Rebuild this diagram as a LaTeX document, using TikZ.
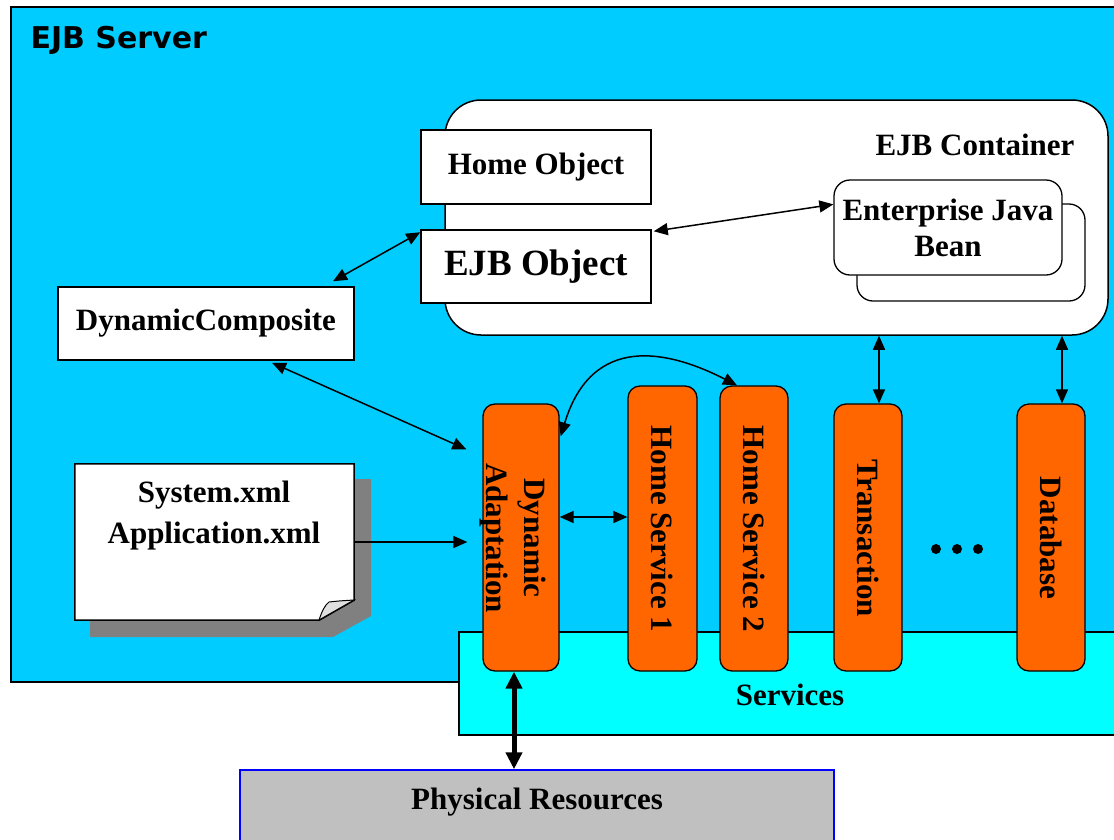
\documentclass[tikz,border=0pt]{standalone}
\usepackage{fontspec}
\setmainfont{Liberation Serif}
\newfontfamily\comicfont{DejaVu Sans}
\usetikzlibrary{arrows.meta,calc}
\definecolor{srv}{HTML}{00CCFF}
\definecolor{svc}{HTML}{00FFFF}
\definecolor{org}{HTML}{FF6600}
\definecolor{phys}{HTML}{C0C0C0}
\definecolor{shd}{HTML}{808080}
\definecolor{foldc}{HTML}{E0E0E0}
\begin{document}
\begin{tikzpicture}[x=1pt,y=-1pt,
  txt/.style={font=\fontsize{31}{36}\selectfont\bfseries},
  sq/.style={draw, line width=1.5pt, fill=white, inner sep=0pt, txt},
  orbox/.style={draw, line width=1.3pt, fill=org, rounded corners=12pt, inner sep=0pt},
  vtext/.style={rotate=-90, txt, align=center},
  dbl/.style={{Triangle[length=14pt,width=12pt]}-{Triangle[length=14pt,width=12pt]}, line width=1.5pt},
  sgl/.style={-{Triangle[length=14pt,width=12pt]}, line width=1.5pt},
  fat/.style={{Triangle[length=17pt,width=16pt]}-{Triangle[length=17pt,width=16pt]}, line width=5pt}]
\useasboundingbox (0,0) rectangle (1114,839);
\clip (0,0) rectangle (1114,839);
% EJB server
\node[draw, line width=1.5pt, fill=srv, inner sep=0pt, minimum width=1114pt, minimum height=675pt] (server) at (568,344.5) {};
\node[anchor=base west, font=\comicfont\bfseries\fontsize{30}{32}\selectfont] (servertitle) at (27,48) {EJB Server};
% services band
\node[draw, line width=1.5pt, fill=svc, inner sep=0pt, minimum width=666pt, minimum height=103pt] (services) at (792,683.5) {};
\node[txt] (svctext) at (790,695) {Services};
% container
\node[draw, line width=1.5pt, fill=white, rounded corners=36pt, inner sep=0pt, minimum width=663pt, minimum height=235pt] (container) at (776.5,217.5) {};
\node[txt, anchor=east] (ctitle) at (1078,145) {EJB Container};
\node[sq, minimum width=230pt, minimum height=74pt] (home) at (536,167) {Home Object};
\node[sq, minimum width=230pt, minimum height=73pt, font=\fontsize{37}{40}\selectfont\bfseries] (ejbobj) at (536,266.5) {EJB Object};
\node[draw, line width=1.3pt, fill=white, rounded corners=16pt, inner sep=0pt, minimum width=228pt, minimum height=97pt] (beanback) at (971,252.5) {};
\node[draw, line width=1.3pt, fill=white, rounded corners=16pt, inner sep=0pt, minimum width=228pt, minimum height=95pt, txt, align=center] (bean) at (948,227.5) {Enterprise Java\\Bean};
% dynamic composite
\node[sq, minimum width=296pt, minimum height=73pt] (dc) at (206,323.5) {DynamicComposite};
% document
\fill[shd] (90,479) -- (371,479) -- (371,616) -- (333,637) -- (90,637) -- cycle;
\node[inner sep=0pt, minimum width=279pt, minimum height=156pt] (doc) at (214.5,542) {};
\draw[line width=1.5pt, fill=white] (doc.north west) -- (doc.north east) -- ($(doc.south east)+(0,-20)$) -- ($(doc.south east)+(-35,0)$) -- (doc.south west) -- cycle;
\draw[line width=1pt, fill=foldc] (319,620) .. controls (322,611) and (325,605) .. (329,602) .. controls (338,601) .. (354,600) -- cycle;
\node[txt, align=center, font=\fontsize{31}{41}\selectfont\bfseries] (doctext) at (214,515.5) {System.xml\\Application.xml};
% service columns
\node[orbox, minimum width=76pt, minimum height=267pt] (da) at (521,537.5) {};
\node[vtext, font=\fontsize{31}{38}\selectfont\bfseries] (datext) at (513,538) {Dynamic\\Adaptation};
\node[orbox, minimum width=69pt, minimum height=285pt] (hs1) at (662.5,528.5) {};
\node[vtext] (hs1text) at (662.5,529) {Home Service 1};
\node[orbox, minimum width=68pt, minimum height=285pt] (hs2) at (754,528.5) {};
\node[vtext] (hs2text) at (754,529) {Home Service 2};
\node[orbox, minimum width=68pt, minimum height=267pt] (tr) at (868,537.5) {};
\node[vtext] (trtext) at (868,538) {Transaction};
\node[orbox, minimum width=68pt, minimum height=267pt] (db) at (1051,537.5) {};
\node[vtext] (dbtext) at (1051,538) {Database};
\fill (936,549) circle (5pt) (957,549) circle (5pt) (978,549) circle (5pt);
% physical resources
\node[draw=blue, line width=1.5pt, fill=phys, inner sep=0pt, minimum width=594pt, minimum height=90pt] (phys) at (537,815) {};
\node[txt] (phystext) at (537,802) {Physical Resources};
% connectors
\draw[dbl] ($(dc.north)+(127,-5)$) -- ($(ejbobj.north west)+(0,3)$);
\draw[dbl] ($(dc.south)+(66,2)$) -- ($(da.north west)+(-16,46)$);
\draw[sgl, shorten >=15pt] (doc.east) -- (doc.east -| da.west);
\draw[dbl] ($(ejbobj.north east)+(2,2)$) -- ($(bean.north west)+(0,25)$);
\draw[dbl] ($(da.north east)+(1,33)$) .. controls (592,333) and (668,350) .. ($(hs2.north)+(-17,0)$);
\coordinate (dah) at ($(da.east)+(0,-20.5)$);
\draw[dbl] (dah) -- (dah -| hs1.west);
\coordinate (tra) at ($(tr.north)+(11,0)$);
\draw[dbl] (tra) -- (tra |- container.south);
\coordinate (dba) at ($(db.north)+(11,0)$);
\draw[dbl] (dba) -- (dba |- container.south);
\coordinate (thk) at ($(da.south)+(-7,0)$);
\draw[fat] (thk) -- (thk |- phys.north);
\end{tikzpicture}
\end{document}
